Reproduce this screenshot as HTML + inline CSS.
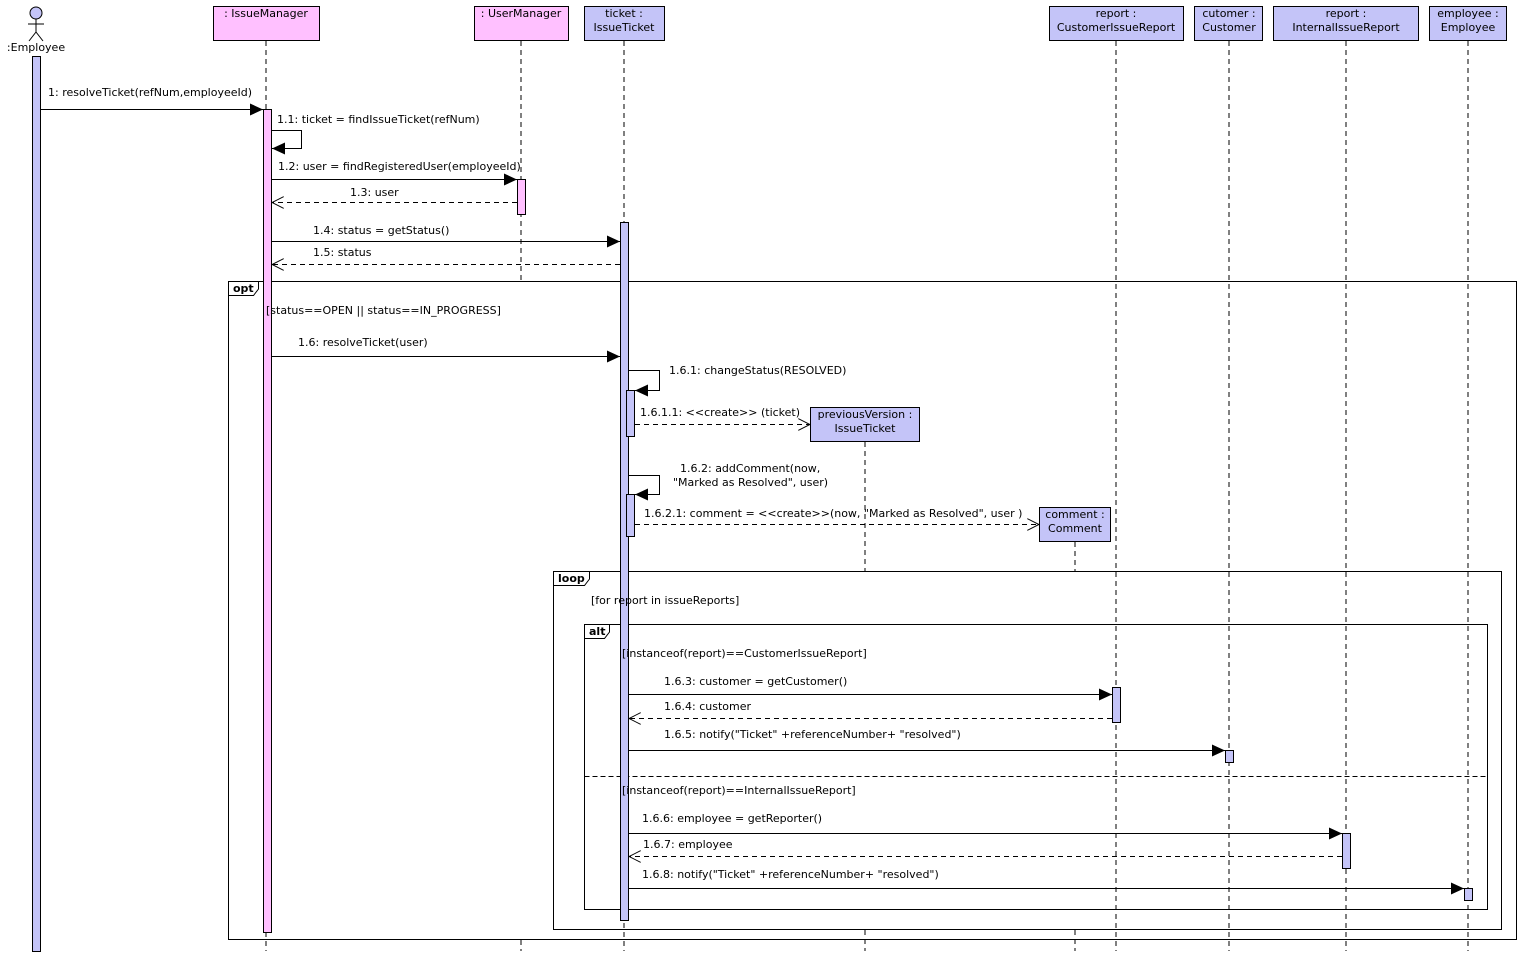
<!DOCTYPE html>
<html><head><meta charset="utf-8"><style>
html,body{margin:0;padding:0;background:#fff}
svg text{font-family:"DejaVu Sans","Liberation Sans",sans-serif;font-size:11px;fill:#000}
</style></head><body>
<svg width="1520" height="956" xmlns="http://www.w3.org/2000/svg">
<defs>
<marker id="f" markerWidth="13" markerHeight="12" refX="13" refY="6" orient="auto" markerUnits="userSpaceOnUse"><path d="M0,0 L13,6 L0,12 z" fill="#000"/></marker>
<marker id="o" markerWidth="13" markerHeight="12" refX="12" refY="6" orient="auto" markerUnits="userSpaceOnUse"><path d="M0,0 L12,6 L0,12" fill="none" stroke="#000"/></marker>
</defs>
<g stroke="#000" stroke-dasharray="5,4" fill="none">
<line x1="266" y1="41" x2="266" y2="951"/>
<line x1="521" y1="41" x2="521" y2="281"/>
<line x1="521" y1="940" x2="521" y2="951"/>
<line x1="624" y1="41" x2="624" y2="951"/>
<line x1="1116" y1="41" x2="1116" y2="951"/>
<line x1="1229" y1="41" x2="1229" y2="951"/>
<line x1="1346" y1="41" x2="1346" y2="951"/>
<line x1="1468" y1="41" x2="1468" y2="951"/>
<line x1="865" y1="442" x2="865" y2="571"/>
<line x1="865" y1="930" x2="865" y2="951"/>
<line x1="1075" y1="542" x2="1075" y2="571"/>
<line x1="1075" y1="930" x2="1075" y2="951"/>
</g>
<g fill="none" stroke="#000">
<rect x="228.5" y="281.5" width="1288" height="658"/>
<path d="M228.5,295.5 H253.5 L258.5,289 V281.5"/>
<rect x="553.5" y="571.5" width="948" height="358"/>
<path d="M553.5,585.5 H584.5 L589.5,579 V571.5"/>
<rect x="584.5" y="624.5" width="903" height="285"/>
<path d="M584.5,638.5 H604.5 L609.5,632 V624.5"/>
<line x1="584.5" y1="776.5" x2="1487.5" y2="776.5" stroke-dasharray="5,3"/>
</g>
<g><text x="233" y="292" style="font-weight:bold">opt</text><text x="558" y="582" style="font-weight:bold">loop</text><text x="589" y="635" style="font-weight:bold">alt</text></g>
<g stroke="#000">
<circle cx="36" cy="13" r="6" fill="#c4c4f8"/>
<line x1="36" y1="19" x2="36" y2="32"/><line x1="28" y1="24" x2="44" y2="24"/>
<line x1="36" y1="32" x2="29" y2="41"/><line x1="36" y1="32" x2="43" y2="41"/>
<rect x="213.5" y="6.5" width="106" height="34" fill="#ffc0ff"/>
<rect x="474.5" y="6.5" width="94" height="34" fill="#ffc0ff"/>
<rect x="584.5" y="6.5" width="80" height="34" fill="#c4c4f8"/>
<rect x="1049.5" y="6.5" width="134" height="34" fill="#c4c4f8"/>
<rect x="1194.5" y="6.5" width="68" height="34" fill="#c4c4f8"/>
<rect x="1273.5" y="6.5" width="145" height="34" fill="#c4c4f8"/>
<rect x="1429.5" y="6.5" width="77" height="34" fill="#c4c4f8"/>
<rect x="810.5" y="407.5" width="109" height="34" fill="#c4c4f8"/>
<rect x="1039.5" y="507.5" width="71" height="34" fill="#c4c4f8"/>
</g>
<g text-anchor="middle">
<text x="36" y="51">:Employee</text>
<text x="266" y="17">: IssueManager</text>
<text x="521" y="17">: UserManager</text>
<text x="624" y="17">ticket :</text><text x="624" y="31">IssueTicket</text>
<text x="1116" y="17">report :</text><text x="1116" y="31">CustomerIssueReport</text>
<text x="1229" y="17">cutomer :</text><text x="1229" y="31">Customer</text>
<text x="1346" y="17">report :</text><text x="1346" y="31">InternalIssueReport</text>
<text x="1468" y="17">employee :</text><text x="1468" y="31">Employee</text>
<text x="865" y="418">previousVersion :</text><text x="865" y="432">IssueTicket</text>
<text x="1075" y="518">comment :</text><text x="1075" y="532">Comment</text>
</g>
<g stroke="#000">
<rect x="32.5" y="56.5" width="8" height="895" fill="#c4c4f8"/>
<rect x="263.5" y="109.5" width="8" height="823" fill="#ffc0ff"/>
<rect x="517.5" y="179.5" width="8" height="35" fill="#ffc0ff"/>
<rect x="620.5" y="222.5" width="8" height="698" fill="#c4c4f8"/>
<rect x="626.5" y="390.5" width="8" height="46" fill="#c4c4f8"/>
<rect x="626.5" y="494.5" width="8" height="42" fill="#c4c4f8"/>
<rect x="1112.5" y="687.5" width="8" height="35" fill="#c4c4f8"/>
<rect x="1225.5" y="750.5" width="8" height="12" fill="#c4c4f8"/>
<rect x="1342.5" y="833.5" width="8" height="35" fill="#c4c4f8"/>
<rect x="1464.5" y="888.5" width="8" height="12" fill="#c4c4f8"/>
</g>
<g stroke="#000" fill="none">
<line x1="41" y1="109.5" x2="263" y2="109.5" marker-end="url(#f)"/>
<path d="M272,130.5 H301.5 V148.5 H272" marker-end="url(#f)"/>
<line x1="272" y1="179.5" x2="517" y2="179.5" marker-end="url(#f)"/>
<line x1="517" y1="202.5" x2="272" y2="202.5" stroke-dasharray="5,4" marker-end="url(#o)"/>
<line x1="272" y1="241.5" x2="620" y2="241.5" marker-end="url(#f)"/>
<line x1="620" y1="264.5" x2="272" y2="264.5" stroke-dasharray="5,4" marker-end="url(#o)"/>
<line x1="272" y1="356.5" x2="620" y2="356.5" marker-end="url(#f)"/>
<path d="M629,370.5 H659.5 V390.5 H635" marker-end="url(#f)"/>
<line x1="635" y1="424.5" x2="810" y2="424.5" stroke-dasharray="5,4" marker-end="url(#o)"/>
<path d="M629,475.5 H659.5 V494.5 H635" marker-end="url(#f)"/>
<line x1="635" y1="524.5" x2="1039" y2="524.5" stroke-dasharray="5,4" marker-end="url(#o)"/>
<line x1="629" y1="694.5" x2="1112" y2="694.5" marker-end="url(#f)"/>
<line x1="1112" y1="718.5" x2="629" y2="718.5" stroke-dasharray="5,4" marker-end="url(#o)"/>
<line x1="629" y1="750.5" x2="1225" y2="750.5" marker-end="url(#f)"/>
<line x1="629" y1="833.5" x2="1342" y2="833.5" marker-end="url(#f)"/>
<line x1="1342" y1="856.5" x2="629" y2="856.5" stroke-dasharray="5,4" marker-end="url(#o)"/>
<line x1="629" y1="888.5" x2="1464" y2="888.5" marker-end="url(#f)"/>
</g>
<text x="48" y="96">1: resolveTicket(refNum,employeeId)</text>
<text x="277" y="123">1.1: ticket = findIssueTicket(refNum)</text>
<text x="278" y="170">1.2: user = findRegisteredUser(employeeId)</text>
<text x="350" y="196">1.3: user</text>
<text x="313" y="234">1.4: status = getStatus()</text>
<text x="313" y="256">1.5: status</text>
<text x="266" y="314">[status==OPEN || status==IN_PROGRESS]</text>
<text x="298" y="346">1.6: resolveTicket(user)</text>
<text x="669" y="374">1.6.1: changeStatus(RESOLVED)</text>
<text x="640" y="416">1.6.1.1: &lt;&lt;create&gt;&gt; (ticket)</text>
<text x="680" y="472">1.6.2: addComment(now,</text>
<text x="673" y="486">"Marked as Resolved", user)</text>
<text x="644" y="517">1.6.2.1: comment = &lt;&lt;create&gt;&gt;(now, "Marked as Resolved", user )</text>
<text x="591" y="604">[for report in issueReports]</text>
<text x="622" y="657">[instanceof(report)==CustomerIssueReport]</text>
<text x="664" y="685">1.6.3: customer = getCustomer()</text>
<text x="664" y="710">1.6.4: customer</text>
<text x="664" y="738">1.6.5: notify("Ticket" +referenceNumber+ "resolved")</text>
<text x="622" y="794">[instanceof(report)==InternalIssueReport]</text>
<text x="642" y="822">1.6.6: employee = getReporter()</text>
<text x="643" y="848">1.6.7: employee</text>
<text x="642" y="878">1.6.8: notify("Ticket" +referenceNumber+ "resolved")</text>
</svg>
</body></html>
